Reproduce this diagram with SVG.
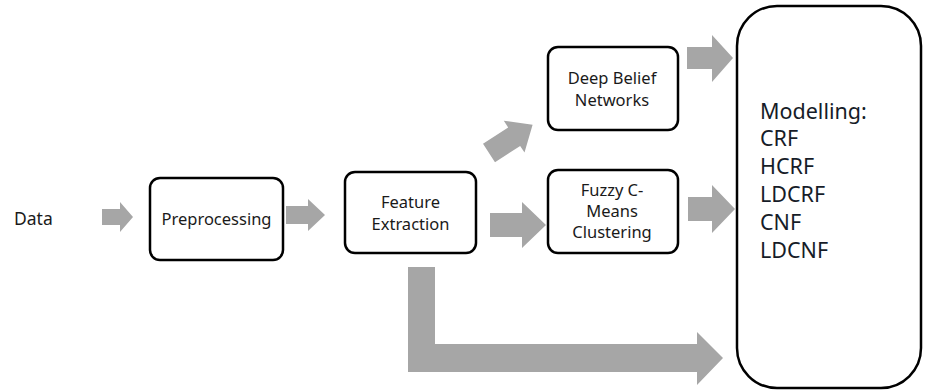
<svg xmlns="http://www.w3.org/2000/svg" width="928" height="390" viewBox="0 0 928 390">
<style>
.box{fill:#fff;stroke:#000;stroke-width:2.5}
.arr{fill:#a6a6a6;stroke:none}
.t{font-family:"Noto Sans","Open Sans",sans-serif;font-size:16.5px;fill:#1a1a1a;text-anchor:middle}
.m{font-family:"Noto Sans","Open Sans",sans-serif;font-size:21.5px;fill:#161c28}
</style>
<rect width="928" height="390" fill="#fff"/>
<g id="connectors">
<path class="arr" d="M102,209 H120 V202 L133,217 L120,232 V225 H102 Z"/>
<path class="arr" d="M286,206 H308 V199 L325,215 L308,231 V224 H286 Z"/>
<path class="arr" d="M490,213 H522 V202 L546,225 L522,248 V237 H490 Z"/>
<path class="arr" transform="translate(489,153) rotate(-33)" d="M0,-11 H30 V-19 L52,0 L30,19 V11 H0 Z"/>
<path class="arr" d="M687,47 H712 V35 L733,58 L712,82 V69 H687 Z"/>
<path class="arr" d="M688,197 H712 V185 L735,209 L712,233 V221 H688 Z"/>
<path class="arr" d="M408,267 H435 V344 H697 V332 L723,358 L697,385 V372 H408 Z"/>
</g>
<g id="data"><text class="t" x="14" y="225" style="text-anchor:start;font-size:17.5px">Data</text></g>
<g id="preprocessing">
<rect class="box" x="150" y="178" width="133" height="82" rx="10"/>
<text class="t" x="216.5" y="225">Preprocessing</text>
</g>
<g id="feature">
<rect class="box" x="345" y="172" width="131" height="81" rx="10"/>
<text class="t" x="410.5" y="208">Feature</text>
<text class="t" x="410.5" y="230">Extraction</text>
</g>
<g id="dbn">
<rect class="box" x="548" y="47" width="130" height="83" rx="10"/>
<text class="t" x="612" y="84">Deep Belief</text>
<text class="t" x="612" y="106">Networks</text>
</g>
<g id="fcm">
<rect class="box" x="548" y="170" width="130" height="83" rx="10"/>
<text class="t" x="612" y="196">Fuzzy C-</text>
<text class="t" x="612" y="217">Means</text>
<text class="t" x="612" y="238">Clustering</text>
</g>
<g id="modelling">
<rect class="box" x="737" y="6" width="184" height="382" rx="40"/>
<text class="m" x="760" y="119">Modelling:</text>
<text class="m" x="760" y="146">CRF</text>
<text class="m" x="760" y="174">HCRF</text>
<text class="m" x="760" y="202">LDCRF</text>
<text class="m" x="760" y="230">CNF</text>
<text class="m" x="760" y="258">LDCNF</text>
</g>
</svg>
